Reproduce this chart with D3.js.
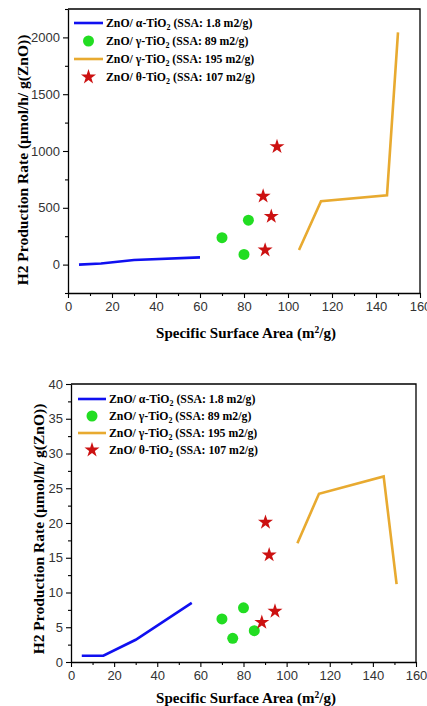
<!DOCTYPE html>
<html>
<head>
<meta charset="utf-8">
<script src="https://cdn.jsdelivr.net/npm/d3@7"></script>
<style>
  body { margin: 0; background: #fff; }
  svg { display: block; }
  .tick text { font-family: "Liberation Sans", Arial, sans-serif; font-size: 13px; fill: #333; }
  .ttl { font-family: "Liberation Serif", "Times New Roman", serif; font-weight: bold; }
</style>
</head>
<body>
<div id="chart"></div>
<script>
// top panel (umol/h/g)
var topBlue = [[5, 0], [15, 9], [30, 40], [60, 64]];
var topGreen = [[70, 237], [82, 391], [80, 90]];
var topStar = [[95, 1038], [88.7, 602], [92.4, 424], [89.6, 128]];
var topOrange = [[105, 128], [115, 558], [145, 611], [150, 2044]];

// bottom panel
var botBlue = [[5, 0.9], [15, 0.9], [30, 3.2], [56, 8.5]];
var botGreen = [[70, 6.2], [80, 7.8], [75, 3.4], [85, 4.5]];
var botStar = [[90.2, 20.1], [91.9, 15.4], [94.6, 7.3], [88.5, 5.7]];
var botOrange = [[105, 17.1], [115, 24.2], [145, 26.7], [151, 11.2]];

var xTicks = [0, 20, 40, 60, 80, 100, 120, 140, 160];
var topYTicks = [0, 500, 1000, 1500, 2000];
var botYTicks = [0, 5, 10, 15, 20, 25, 30, 35, 40];

var legendNames = [
  ["ZnO/  α-TiO", "2", " (SSA: 1.8 m2/g)"],
  ["ZnO/ γ-TiO", "2", " (SSA: 89 m2/g)"],
  ["ZnO/ γ-TiO", "2", " (SSA: 195 m2/g)"],
  ["ZnO/ θ-TiO", "2", " (SSA: 107 m2/g)"]
];

var blue = "#1010f0", green = "#22dd22", orange = "#e8aa30", red = "#cc1111";

var svg = d3.select("#chart").append("svg")
  .attr("width", 427).attr("height", 706);

function panel(o) {
  var x = d3.scaleLinear().domain([0, 160]).range([o.left, o.right]);
  var y = d3.scaleLinear().domain(o.ydom).range([o.bottom, o.top]);
  var g = svg.append("g");

  // frame top/right
  g.append("path")
    .attr("d", "M" + o.left + "," + o.top + "H" + o.right + "V" + o.bottom)
    .attr("fill", "none").attr("stroke", "#000").attr("stroke-width", 1.3);

  // minor ticks
  var xminor = d3.range(10, 160, 20);
  g.append("g").attr("transform", "translate(0," + o.bottom + ")")
    .call(d3.axisBottom(x).tickValues(xminor).tickSize(3).tickFormat(""))
    .call(function (a) { a.select(".domain").remove(); });
  g.append("g").attr("transform", "translate(" + o.left + ",0)")
    .call(d3.axisLeft(y).tickValues(o.yminor).tickSize(3).tickFormat(""))
    .call(function (a) { a.select(".domain").remove(); });

  g.append("g").attr("transform", "translate(0," + o.bottom + ")")
    .call(d3.axisBottom(x).tickValues(xTicks).tickFormat(d3.format("d"))
      .tickSize(5).tickSizeOuter(0).tickPadding(4));
  g.append("g").attr("transform", "translate(" + o.left + ",0)")
    .call(d3.axisLeft(y).tickValues(o.yticks).tickFormat(d3.format("d"))
      .tickSize(5).tickSizeOuter(0).tickPadding(3));
  g.selectAll(".domain").attr("stroke-width", 1.3);
  g.selectAll(".tick line").attr("stroke-width", 1.1);

  var line = d3.line().x(function (d) { return x(d[0]); }).y(function (d) { return y(d[1]); });
  g.append("path").datum(o.blue).attr("d", line)
    .attr("fill", "none").attr("stroke", blue).attr("stroke-width", 2.6);
  g.append("path").datum(o.orange).attr("d", line)
    .attr("fill", "none").attr("stroke", orange).attr("stroke-width", 2.6);

  g.selectAll(".dot").data(o.green).enter().append("circle")
    .attr("cx", function (d) { return x(d[0]); })
    .attr("cy", function (d) { return y(d[1]); })
    .attr("r", 5.5).attr("fill", green);

  var star = d3.symbol().type(d3.symbolStar).size(70);
  g.selectAll(".star").data(o.star).enter().append("path")
    .attr("d", star)
    .attr("transform", function (d) { return "translate(" + x(d[0]) + "," + y(d[1]) + ")"; })
    .attr("fill", red);

  // legend
  var lg = g.append("g");
  legendNames.forEach(function (n, i) {
    var ly = o.legY + i * o.legStep;
    var cx = (o.legX0 + o.legX1) / 2;
    if (i == 0 || i == 2) {
      lg.append("line").attr("x1", o.legX0).attr("x2", o.legX1)
        .attr("y1", ly).attr("y2", ly)
        .attr("stroke", i == 0 ? blue : orange).attr("stroke-width", 2.6);
    } else if (i == 1) {
      lg.append("circle").attr("cx", cx).attr("cy", ly).attr("r", 5.5).attr("fill", green);
    } else {
      lg.append("path").attr("d", star).attr("fill", red)
        .attr("transform", "translate(" + cx + "," + ly + ")");
    }
    var t = lg.append("text").attr("class", "ttl")
      .attr("x", o.legX1 + 3).attr("y", ly + 4).attr("font-size", 11.8);
    t.append("tspan").text(n[0]);
    t.append("tspan").attr("dy", 3).attr("font-size", 8).text(n[1]);
    t.append("tspan").attr("dy", -3).text(n[2]);
  });

  // axis titles
  var xt = g.append("text").attr("class", "ttl").attr("font-size", 15)
    .attr("text-anchor", "middle").attr("x", o.xTitleX).attr("y", o.xTitleY);
  xt.append("tspan").text("Specific Surface Area (m");
  xt.append("tspan").attr("dy", -5).attr("font-size", 9.5).text("2");
  xt.append("tspan").attr("dy", 5).text("/g)");

  g.append("text").attr("class", "ttl").attr("font-size", 15.5)
    .attr("text-anchor", "middle")
    .attr("transform", "translate(" + o.yTitleX + "," + o.yTitleY + ") rotate(-90)")
    .text("H2 Production Rate (µmol/h/ g(ZnO))");
}

panel({
  left: 68, right: 420, top: 9, bottom: 293,
  ydom: [-250, 2250], yticks: topYTicks, yminor: [-250, 250, 750, 1250, 1750, 2250],
  blue: topBlue, green: topGreen, star: topStar, orange: topOrange,
  legX0: 74, legX1: 103, legY: 23, legStep: 18,
  xTitleX: 246, xTitleY: 338, yTitleX: 28, yTitleY: 160
});

panel({
  left: 71, right: 416, top: 384, bottom: 662,
  ydom: [0, 40], yticks: botYTicks, yminor: d3.range(2.5, 40, 5),
  blue: botBlue, green: botGreen, star: botStar, orange: botOrange,
  legX0: 78, legX1: 106, legY: 399, legStep: 17,
  xTitleX: 246, xTitleY: 703, yTitleX: 44, yTitleY: 529
});
</script>
</body>
</html>
